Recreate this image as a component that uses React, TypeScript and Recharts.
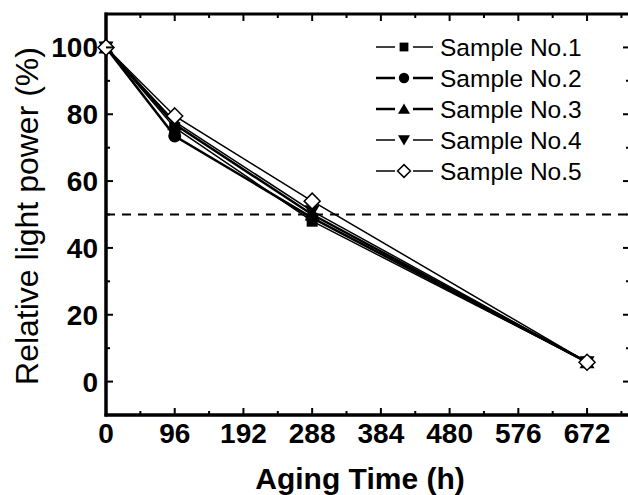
import React from 'react';
import { LineChart, Line, XAxis, YAxis, ReferenceLine, Legend } from 'recharts';

// aging time in hours at each measurement
const HOURS = [0, 96, 288, 672];

// relative light power (%) per sample
const SAMPLE_1 = [100, 76, 48, 5.8];
const SAMPLE_2 = [100, 73.5, 49, 5.8];
const SAMPLE_3 = [100, 77, 50, 5.8];
const SAMPLE_4 = [100, 77.8, 51, 5.8];
const SAMPLE_5 = [100, 79.5, 54, 5.8];

const X_TICKS = [0, 48, 96, 144, 192, 240, 288, 336, 384, 432, 480, 528, 576, 624, 672, 720];
const Y_TICKS = [0, 10, 20, 30, 40, 50, 60, 70, 80, 90, 100];
const X_DOMAIN = [0, 732];
const Y_DOMAIN = [-10, 110];
const HALF_LIFE = 50;

const data = HOURS.map((h, i) => ({
  hours: h,
  s1: SAMPLE_1[i],
  s2: SAMPLE_2[i],
  s3: SAMPLE_3[i],
  s4: SAMPLE_4[i],
  s5: SAMPLE_5[i],
}));

const FONT = '"Liberation Sans", Arial, sans-serif';

// plot box
const W = 640;
const H = 495;
const M = { top: 14, right: 10, bottom: 0, left: 0 };
const Y_AXIS_W = 106;
const X_AXIS_H = 80;
const PLOT_LEFT = M.left + Y_AXIS_W;
const PLOT_TOP = M.top;
const PLOT_RIGHT = W - M.right;
const PLOT_BOTTOM = H - M.bottom - X_AXIS_H;

type Marker = 'square' | 'circle' | 'up' | 'down' | 'diamond';

const SERIES: { key: string; name: string; marker: Marker; width: number }[] = [
  { key: 's1', name: 'Sample No.1', marker: 'square', width: 1.5 },
  { key: 's2', name: 'Sample No.2', marker: 'circle', width: 2.5 },
  { key: 's3', name: 'Sample No.3', marker: 'up', width: 2.5 },
  { key: 's4', name: 'Sample No.4', marker: 'down', width: 1.5 },
  { key: 's5', name: 'Sample No.5', marker: 'diamond', width: 1.5 },
];

function markerShape(m: Marker, cx: number, cy: number, s = 1) {
  switch (m) {
    case 'square':
      return <rect x={cx - 5.5 * s} y={cy - 5.5 * s} width={11 * s} height={11 * s} fill="#000" />;
    case 'circle':
      return <circle cx={cx} cy={cy} r={6.5 * s} fill="#000" />;
    case 'up':
      return <polygon points={`${cx},${cy - 7 * s} ${cx + 7.5 * s},${cy + 6 * s} ${cx - 7.5 * s},${cy + 6 * s}`} fill="#000" />;
    case 'down':
      return <polygon points={`${cx},${cy + 7 * s} ${cx + 7.5 * s},${cy - 6 * s} ${cx - 7.5 * s},${cy - 6 * s}`} fill="#000" />;
    default:
      return (
        <polygon
          points={`${cx},${cy - 8 * s} ${cx + 8 * s},${cy} ${cx},${cy + 8 * s} ${cx - 8 * s},${cy}`}
          fill="#fff"
          stroke="#000"
          strokeWidth={1.5}
        />
      );
  }
}

// inward ticks on both sides of the frame, label only on major ones
function XTick(props: any) {
  const { x, y, payload } = props;
  const v = payload.value as number;
  const major = v % 96 === 0;
  const len = major ? 7 : 4;
  return (
    <g stroke="#000" strokeWidth={2}>
      <line x1={x} x2={x} y1={y} y2={y - len} />
      <line x1={x} x2={x} y1={PLOT_TOP} y2={PLOT_TOP + len} />
      {major && (
        <text x={x} y={y + 28} textAnchor="middle" stroke="none" fill="#000" fontSize={28} fontWeight="bold" fontFamily={FONT}>
          {v}
        </text>
      )}
    </g>
  );
}

function YTick(props: any) {
  const { x, y, payload } = props;
  const v = payload.value as number;
  const major = v % 20 === 0;
  const len = major ? 7 : 4;
  return (
    <g stroke="#000" strokeWidth={2}>
      <line x1={x} x2={x + len} y1={y} y2={y} />
      <line x1={PLOT_RIGHT} x2={PLOT_RIGHT - len} y1={y} y2={y} />
      {major && (
        <text x={x - 8} y={y + 10} textAnchor="end" stroke="none" fill="#000" fontSize={28} fontWeight="bold" fontFamily={FONT}>
          {v}
        </text>
      )}
    </g>
  );
}

function LegendBox() {
  return (
    <svg width={230} height={160}>
      {SERIES.map((s, i) => {
        const cy = 12 + i * 31;
        return (
          <g key={s.key}>
            <line x1={6} x2={25} y1={cy} y2={cy} stroke="#000" strokeWidth={s.width} />
            <line x1={43} x2={63} y1={cy} y2={cy} stroke="#000" strokeWidth={s.width} />
            {markerShape(s.marker, 34, cy, 0.8)}
            <text x={70} y={cy + 9} fontSize={24.5} fontFamily={FONT} fill="#000">
              {s.name}
            </text>
          </g>
        );
      })}
    </svg>
  );
}

const axisLine = { stroke: '#000', strokeWidth: 3, strokeLinecap: 'square' as const };

export default function App() {
  return (
    <div style={{ position: 'absolute', left: 0, top: 0, width: 628, height: 495, overflow: 'hidden', background: '#fff' }}>
      <LineChart width={W} height={H} data={data} margin={M}>
        <rect
          x={PLOT_LEFT}
          y={PLOT_TOP}
          width={PLOT_RIGHT - PLOT_LEFT}
          height={PLOT_BOTTOM - PLOT_TOP}
          fill="none"
          stroke="#000"
          strokeWidth={3}
        />
        <XAxis
          dataKey="hours"
          type="number"
          domain={X_DOMAIN}
          ticks={X_TICKS}
          interval={0}
          height={X_AXIS_H}
          tickSize={0}
          tickMargin={0}
          tickLine={false}
          axisLine={axisLine}
          tick={XTick}
        />
        <YAxis
          type="number"
          domain={Y_DOMAIN}
          ticks={Y_TICKS}
          interval={0}
          width={Y_AXIS_W}
          tickSize={0}
          tickMargin={0}
          tickLine={false}
          axisLine={axisLine}
          tick={YTick}
        />
        <ReferenceLine y={HALF_LIFE} stroke="#000" strokeWidth={2} strokeDasharray="9 7" />
        {SERIES.map((s) => (
          <Line
            key={s.key}
            dataKey={s.key}
            name={s.name}
            stroke="#000"
            strokeWidth={s.width}
            isAnimationActive={false}
            dot={(p: any) => <g key={`${s.key}-${p.index}`}>{markerShape(s.marker, p.cx, p.cy)}</g>}
            activeDot={false}
          />
        ))}
        <Legend
          layout="vertical"
          align="center"
          verticalAlign="middle"
          content={() => <LegendBox />}
          wrapperStyle={{ position: 'absolute', left: 370, top: 35, width: 230 }}
        />
        <text x={38} y={216} transform="rotate(-90 38 216)" textAnchor="middle" fontSize={32} fontFamily={FONT} fill="#000">
          Relative light power (%)
        </text>
        <text x={360} y={489} textAnchor="middle" fontSize={30} fontWeight="bold" fontFamily={FONT} fill="#000">
          Aging Time (h)
        </text>
      </LineChart>
    </div>
  );
}
